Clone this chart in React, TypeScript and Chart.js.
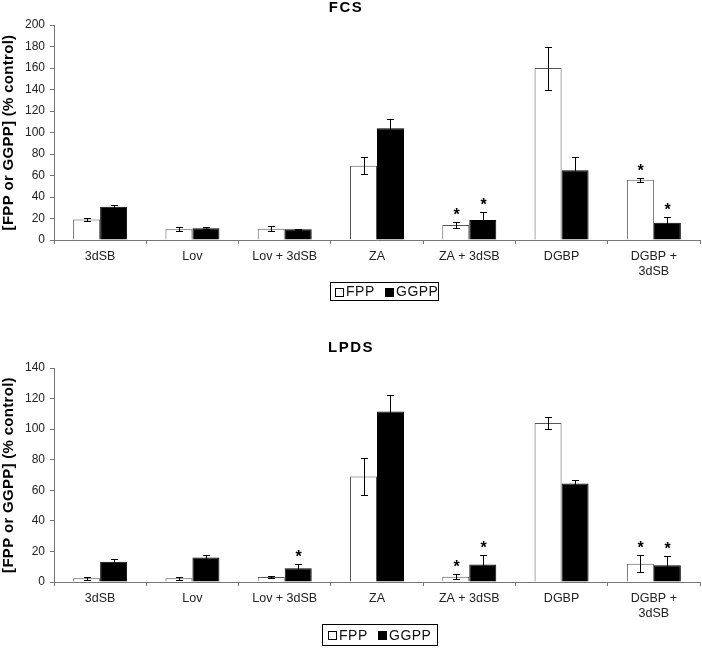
import React, { useEffect, useRef } from 'react';
import { Chart, registerables } from 'chart.js';
Chart.register(...registerables);

const categories: (string | string[])[] = ['3dSB', 'Lov', 'Lov + 3dSB', 'ZA', 'ZA + 3dSB', 'DGBP', ['DGBP +', '3dSB']];
const seriesNames = ['FPP', 'GGPP'];

const fcsFPP = [19, 10, 10.5, 69, 14, 160, 56];
const fcsFPPErr = [1.5, 2, 2.5, 8, 3, 20, 2];
const fcsGGPP = [31, 11, 10, 104, 18.5, 65, 16];
const fcsGGPPErr = [1.5, 1, 0.5, 9, 8, 12, 5];
const fcsFPPStar = [0, 0, 0, 0, 1, 0, 1];
const fcsGGPPStar = [0, 0, 0, 0, 1, 0, 1];

const lpdsFPP = [2.5, 2.5, 3.3, 69, 3.5, 104, 12];
const lpdsFPPErr = [1, 1, 0.7, 12, 1.5, 4, 5.5];
const lpdsGGPP = [13.3, 16, 9, 111.5, 11.5, 64.5, 11];
const lpdsGGPPErr = [2, 1.5, 2.6, 11, 6, 2.5, 6];
const lpdsFPPStar = [0, 0, 0, 0, 1, 0, 1];
const lpdsGGPPStar = [0, 0, 1, 0, 1, 0, 1];

const FONT = "'Liberation Sans', Arial, Helvetica, sans-serif";
const AXIS = '#777';

type Cfg = {
  title: string;
  titleX: number;
  titleY: number;
  max: number;
  padTop: number;
  xHeight: number;
  fpp: number[]; fppErr: number[]; fppStar: number[];
  ggpp: number[]; ggppErr: number[]; ggppStar: number[];
  legend: { x: number; y: number; w: number; h: number; sq1: number; t1: number; sq2: number; t2: number };
};

function overlay(cfg: Cfg) {
  return {
    id: 'overlay',
    afterDatasetsDraw(chart: any) {
      const ctx = chart.ctx;
      const ys = chart.scales.y;
      const sets = [
        { v: cfg.fpp, e: cfg.fppErr, s: cfg.fppStar },
        { v: cfg.ggpp, e: cfg.ggppErr, s: cfg.ggppStar },
      ];
      ctx.save();
      sets.forEach((set, di) => {
        const meta = chart.getDatasetMeta(di);
        meta.data.forEach((bar: any, i: number) => {
          const x = Math.round(bar.x) + 0.5;
          const top = Math.round(ys.getPixelForValue(set.v[i] + set.e[i])) + 0.5;
          const bot = Math.round(ys.getPixelForValue(Math.max(0, set.v[i] - set.e[i]))) + 0.5;
          ctx.strokeStyle = '#000';
          ctx.lineWidth = 1;
          ctx.beginPath();
          ctx.moveTo(x, top); ctx.lineTo(x, bot);
          ctx.moveTo(x - 3.5, top); ctx.lineTo(x + 3.5, top);
          ctx.moveTo(x - 3.5, bot); ctx.lineTo(x + 3.5, bot);
          ctx.stroke();
          if (set.s[i]) {
            ctx.fillStyle = '#000';
            ctx.font = `bold 16px ${FONT}`;
            ctx.textAlign = 'center';
            ctx.textBaseline = 'alphabetic';
            ctx.fillText('*', x, top - 3);
          }
        });
      });
      ctx.restore();
    },
    afterDraw(chart: any) {
      const ctx = chart.ctx;
      const area = chart.chartArea;
      ctx.save();
      // title
      ctx.fillStyle = '#000';
      ctx.font = `bold 15px ${FONT}`;
      (ctx as any).letterSpacing = '1.5px';
      ctx.textAlign = 'center';
      ctx.textBaseline = 'middle';
      ctx.fillText(cfg.title, cfg.titleX, cfg.titleY);
      (ctx as any).letterSpacing = '0px';
      // y label
      ctx.save();
      ctx.translate(9, (area.top + area.bottom) / 2);
      ctx.rotate(-Math.PI / 2);
      ctx.font = `bold 15px ${FONT}`;
      (ctx as any).letterSpacing = '0.3px';
      ctx.textAlign = 'center';
      ctx.textBaseline = 'middle';
      ctx.fillText('[FPP or GGPP] (% control)', 0, 0);
      (ctx as any).letterSpacing = '0px';
      ctx.restore();
      // legend
      const L = cfg.legend;
      ctx.strokeStyle = '#000';
      ctx.lineWidth = 1;
      ctx.strokeRect(L.x + 0.5, L.y + 0.5, L.w, L.h);
      const cy = L.y + L.h / 2 + 0.5;
      ctx.fillStyle = '#fff';
      ctx.fillRect(L.sq1 + 0.5, Math.round(cy - 4) + 0.5, 8, 8);
      ctx.strokeRect(L.sq1 + 0.5, Math.round(cy - 4) + 0.5, 8, 8);
      ctx.fillStyle = '#000';
      ctx.fillRect(L.sq2, Math.round(cy - 4), 9, 9);
      ctx.font = `14px ${FONT}`;
      (ctx as any).letterSpacing = '0.5px';
      ctx.textAlign = 'left';
      ctx.textBaseline = 'middle';
      ctx.fillStyle = '#111';
      ctx.fillText(seriesNames[0], L.t1, cy + 1);
      ctx.fillText(seriesNames[1], L.t2, cy + 1);
      (ctx as any).letterSpacing = '0px';
      ctx.restore();
    },
  };
}

function BarPanel({ cfg, height, top }: { cfg: Cfg; height: number; top: number }) {
  const ref = useRef<HTMLCanvasElement>(null);
  useEffect(() => {
    if (!ref.current) return;
    const chart = new Chart(ref.current, {
      type: 'bar',
      data: {
        labels: categories as any,
        datasets: [
          {
            label: seriesNames[0],
            data: cfg.fpp,
            backgroundColor: '#ffffff',
            borderColor: '#555',
            borderWidth: 1,
            categoryPercentage: 0.585,
            barPercentage: 1,
          },
          {
            label: seriesNames[1],
            data: cfg.ggpp,
            backgroundColor: '#000000',
            borderColor: '#000000',
            borderWidth: 1,
            categoryPercentage: 0.585,
            barPercentage: 1,
          },
        ],
      },
      options: {
        responsive: false,
        animation: false,
        layout: { padding: { top: cfg.padTop, right: 2, left: 0, bottom: 0 } },
        plugins: { legend: { display: false }, title: { display: false }, tooltip: { enabled: false } },
        scales: {
          x: {
            afterFit: (s: any) => { s.height = cfg.xHeight; },
            grid: { display: true, drawOnChartArea: false, drawTicks: true, tickLength: 4, offset: true, color: AXIS },
            border: { display: true, color: AXIS },
            ticks: { color: '#222', font: { family: FONT, size: 12.5 }, padding: 5, maxRotation: 0, autoSkip: false },
          },
          y: {
            min: 0,
            max: cfg.max,
            afterFit: (s: any) => { s.width = 54; },
            grid: { display: true, drawOnChartArea: false, drawTicks: true, tickLength: 4, color: AXIS },
            border: { display: true, color: AXIS },
            ticks: { stepSize: 20, color: '#222', font: { family: FONT, size: 12 }, padding: 5 },
          },
        },
      },
      plugins: [overlay(cfg) as any],
    });
    return () => chart.destroy();
  }, []);
  return (
    <canvas
      ref={ref}
      width={702}
      height={height}
      style={{ position: 'absolute', left: 0, top, width: 702, height, display: 'block' }}
    />
  );
}

const fcsCfg: Cfg = {
  title: 'FCS', titleX: 346, titleY: 8, max: 200, padTop: 25, xHeight: 80,
  fpp: fcsFPP, fppErr: fcsFPPErr, fppStar: fcsFPPStar,
  ggpp: fcsGGPP, ggppErr: fcsGGPPErr, ggppStar: fcsGGPPStar,
  legend: { x: 330, y: 282, w: 108, h: 18, sq1: 335, t1: 346, sq2: 385, t2: 396 },
};

const lpdsCfg: Cfg = {
  title: 'LPDS', titleX: 351, titleY: 28, max: 140, padTop: 48, xHeight: 66,
  fpp: lpdsFPP, fppErr: lpdsFPPErr, fppStar: lpdsFPPStar,
  ggpp: lpdsGGPP, ggppErr: lpdsGGPPErr, ggppStar: lpdsGGPPStar,
  legend: { x: 322, y: 304, w: 115, h: 21, sq1: 328, t1: 339, sq2: 378, t2: 389 },
};

export default function App() {
  return (
    <div style={{ position: 'absolute', left: 0, top: 0, width: 702, height: 648, background: '#fff' }}>
      <BarPanel cfg={fcsCfg} height={320} top={0} />
      <BarPanel cfg={lpdsCfg} height={328} top={320} />
    </div>
  );
}
